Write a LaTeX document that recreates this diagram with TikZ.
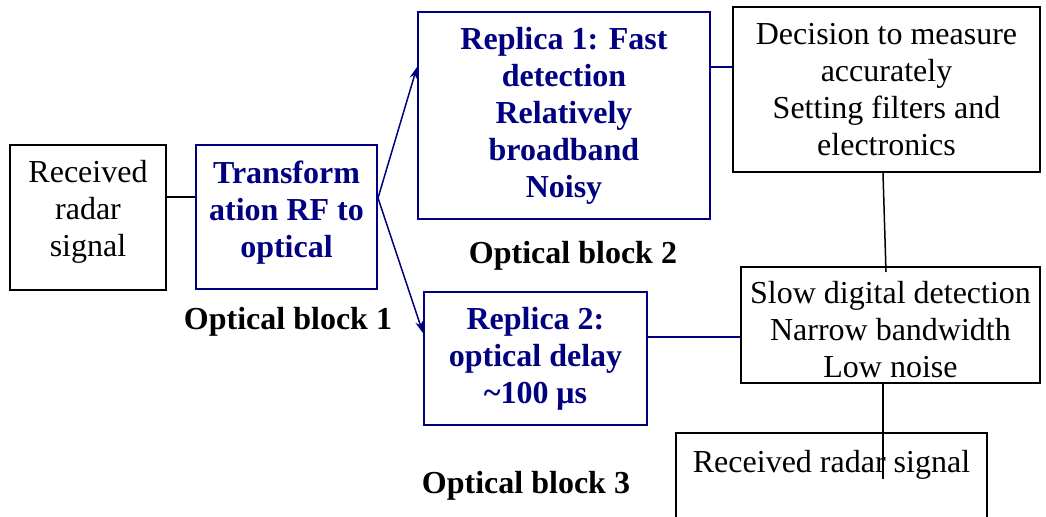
\documentclass[tikz,border=0pt]{standalone}
\usepackage{fontspec}
\setmainfont{Liberation Serif}
\usetikzlibrary{arrows.meta}
\definecolor{optblue}{RGB}{0,0,128}
\tikzset{
  blk/.style={draw=black,line width=1pt,inner sep=0pt,align=center,font=\fontsize{16}{18.5}\selectfont},
  opt/.style={blk,draw=optblue,text=optblue,font=\fontsize{16}{18.5}\selectfont\bfseries},
  lnk/.style={line width=0.75pt},
  arr/.style={lnk,optblue,-{Stealth[length=6pt,width=4pt]}},
  blab/.style={font=\fontsize{16}{18.5}\selectfont\bfseries}
}

\begin{document}
\begin{tikzpicture}[x=0.5pt,y=-0.5pt]
  \useasboundingbox (0,0) rectangle (1046,516);
  \node[blk,minimum width=78pt,minimum height=72.5pt,
    label={[blk,draw=none,yshift=3pt]center:{Received\\radar\\signal}}] (rx) at (88,217.5) {};
  \node[opt,minimum width=90.5pt,minimum height=72pt,
    label={[opt,draw=none,yshift=2pt]center:{Transform\\ation RF to\\optical}}] (trans) at (286.5,217) {};
  \node[opt,minimum width=146pt,minimum height=103.5pt] (rep1) at (564,115.5) {Replica 1: Fast\\detection\\Relatively\\broadband\\Noisy};
  \node[opt,minimum width=111.5pt,minimum height=66.5pt] (rep2) at (535.5,358.5) {Replica 2:\\optical delay\\\textasciitilde100 μs};
  \node[blk,minimum width=153.5pt,minimum height=82.5pt] (dec) at (886.5,89.5) {Decision to measure\\accurately\\Setting filters and\\electronics};
  \node[blk,minimum width=149.5pt,minimum height=58pt,
    label={[blk,draw=none,yshift=-2.5pt]center:{Slow digital detection\\Narrow bandwidth\\Low noise}}] (slow) at (890.5,325) {};
  \node[blk,draw=none,minimum width=154.5pt,minimum height=41pt] (bot) at (831.5,475) {};
  \draw[line width=1pt] (bot.south west) |- (bot.north east) -- (bot.south east);
  \node[blk,draw=none] (botlab) at (831.5,465) {Received radar signal};
  \node[blab] (ob1) at (288,322) {Optical block 1};
  \node[blab] (ob2) at (573,256) {Optical block 2};
  \node[blab] (ob3) at (526,486) {Optical block 3};
  % connectors
  \draw[lnk] (rx.east |- 0,197) -- (trans.west |- 0,197);
  \draw[arr] (trans.east |- 0,198) -- (rep1.west |- 0,67);
  \draw[arr] (trans.east |- 0,198) -- (rep2.west |- 0,333);
  \draw[lnk,optblue] (rep1.east |- 0,67) -- (dec.west |- 0,67);
  \draw[lnk,optblue] (rep2.east |- 0,337) -- (slow.west |- 0,337);
  \draw[lnk] (dec.south -| 883,0) -- ([xshift=-2.25pt,yshift=-3pt]slow.north);
  \coordinate (tail) at (883,479);
  \draw[lnk] (slow.south -| tail) -- (tail);
\end{tikzpicture}
\end{document}
